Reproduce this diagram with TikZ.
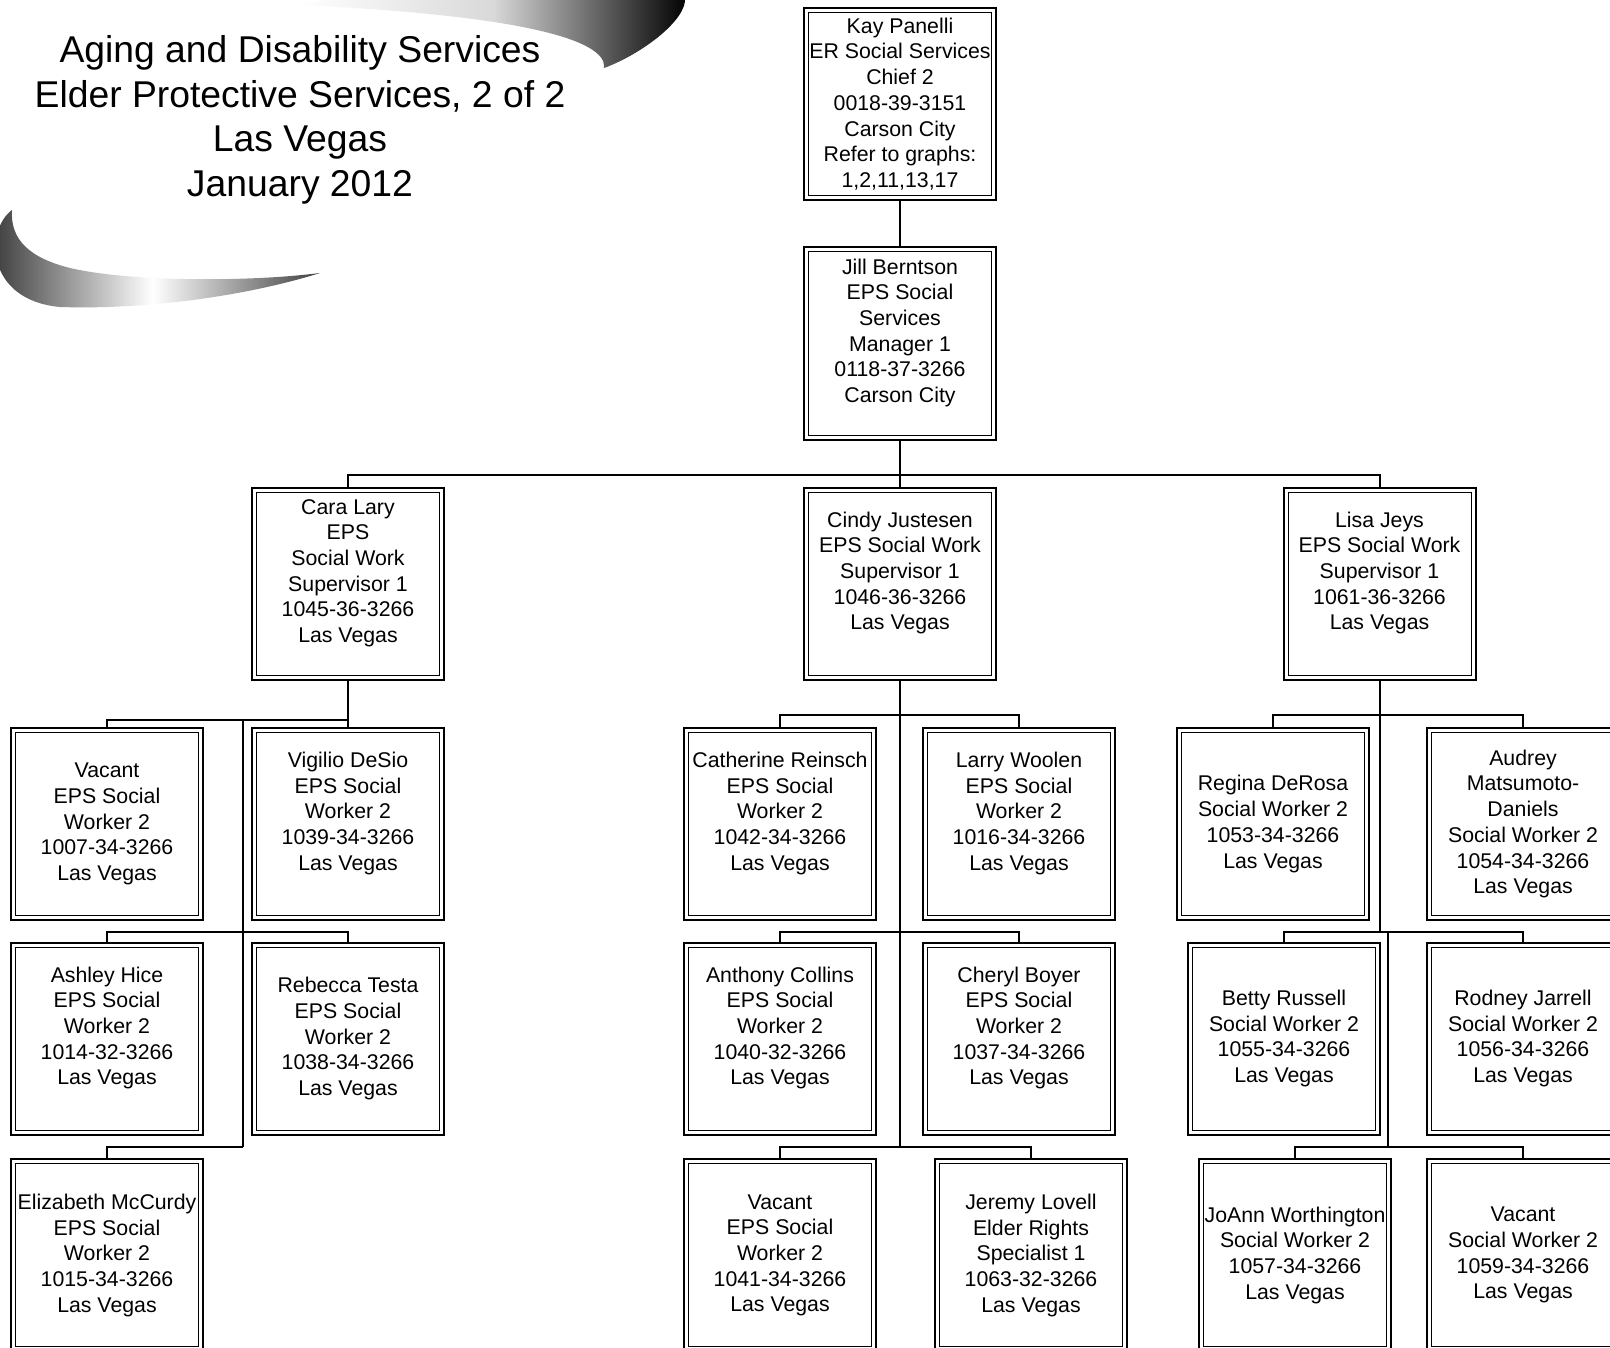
\documentclass[tikz,border=0pt]{standalone}
\usepackage{fontspec}
\setmainfont{Liberation Sans}
\newcommand\boxfont{\fontsize{21.3}{25.7}\selectfont}
\newcommand\titlefont{\fontsize{37.3}{44.7}\selectfont}
\tikzset{
  post/.style={draw, line width=2pt, fill=white, minimum width=192pt, minimum height=192pt,
    inner sep=0pt, align=center, font=\boxfont,
    path picture={\draw[line width=1pt] ([shift={(4.5pt,-4.5pt)}]path picture bounding box.north west)
      rectangle ([shift={(-4.5pt,4.5pt)}]path picture bounding box.south east);}},
  link/.style={line width=2pt}
}
\begin{document}
\begin{tikzpicture}[x=1pt, y=-1pt]
\useasboundingbox (0,0) rectangle (1610,1348);
\fill[white] (0,0) rectangle (1610,1348);
\clip (0,0) rectangle (1610,1348);

% swooshes round the title
\shade[left color=white, right color=black, middle color=black!15]
  (298,5) .. controls (420,-20) and (680,-30) .. (685,-3)
  .. controls (688,20) and (640,55) .. (604,68)
  .. controls (608,40) and (520,15) .. (298,5) -- cycle;
\shade[left color=black!80, right color=black!75, middle color=white]
  (12,210) .. controls (-15,230) and (-15,300) .. (60,307)
  .. controls (150,310) and (250,295) .. (320,273)
  .. controls (250,282) and (130,282) .. (70,268)
  .. controls (30,258) and (10,240) .. (12,210) -- cycle;

\node[font=\titlefont, align=center] (title) at (300,120)
  {Aging and Disability Services\\Elder Protective Services, 2 of 2\\Las Vegas\\January 2012};

% top
\node[post] (kay) at (900,104) {Kay Panelli\\ER Social Services\\Chief 2\\0018-39-3151\\Carson City\\Refer to graphs:\\1,2,11,13,17};
\node[post] (jill) at (900,343.5) {Jill Berntson\\EPS Social\\Services\\Manager 1\\0118-37-3266\\Carson City\\[0pt]~};

% supervisors
\node[post] (cara) at (348,583.7) {Cara Lary\\EPS\\Social Work\\Supervisor 1\\1045-36-3266\\Las Vegas\\[0pt]~};
\node[post] (cindy) at (900,583.7) {Cindy Justesen\\EPS Social Work\\Supervisor 1\\1046-36-3266\\Las Vegas\\[0pt]~};
\node[post] (lisa) at (1379.5,583.7) {Lisa Jeys\\EPS Social Work\\Supervisor 1\\1061-36-3266\\Las Vegas\\[0pt]~};

% Cara's unit
\node[post] (vacantA) at (107,824) {Vacant\\EPS Social\\Worker 2\\1007-34-3266\\Las Vegas};
\node[post] (vigilio) at (348,824) {Vigilio DeSio\\EPS Social\\Worker 2\\1039-34-3266\\Las Vegas\\[0pt]~};
\node[post] (ashley) at (107,1038.6) {Ashley Hice\\EPS Social\\Worker 2\\1014-32-3266\\Las Vegas\\[0pt]~};
\node[post] (rebecca) at (348,1038.6) {Rebecca Testa\\EPS Social\\Worker 2\\1038-34-3266\\Las Vegas};
\node[post] (elizabeth) at (107,1255.3) {Elizabeth McCurdy\\EPS Social\\Worker 2\\1015-34-3266\\Las Vegas};

% Cindy's unit
\node[post] (catherine) at (780,824) {Catherine Reinsch\\EPS Social\\Worker 2\\1042-34-3266\\Las Vegas\\[0pt]~};
\node[post] (larry) at (1019,824) {Larry Woolen\\EPS Social\\Worker 2\\1016-34-3266\\Las Vegas\\[0pt]~};
\node[post] (anthony) at (780,1038.6) {Anthony Collins\\EPS Social\\Worker 2\\1040-32-3266\\Las Vegas\\[0pt]~};
\node[post] (cheryl) at (1019,1038.6) {Cheryl Boyer\\EPS Social\\Worker 2\\1037-34-3266\\Las Vegas\\[0pt]~};
\node[post] (vacantC) at (780,1255.3) {Vacant\\EPS Social\\Worker 2\\1041-34-3266\\Las Vegas};
\node[post] (jeremy) at (1031,1255.3) {Jeremy Lovell\\Elder Rights\\Specialist 1\\1063-32-3266\\Las Vegas};

% Lisa's unit
\node[post] (regina) at (1273,824) {Regina DeRosa\\Social Worker 2\\1053-34-3266\\Las Vegas};
\node[post] (audrey) at (1523,824) {Audrey\\Matsumoto-\\Daniels\\Social Worker 2\\1054-34-3266\\Las Vegas};
\node[post] (betty) at (1284,1038.6) {Betty Russell\\Social Worker 2\\1055-34-3266\\Las Vegas};
\node[post] (rodney) at (1523,1038.6) {Rodney Jarrell\\Social Worker 2\\1056-34-3266\\Las Vegas};
\node[post] (joann) at (1295,1255.3) {JoAnn Worthington\\Social Worker 2\\1057-34-3266\\Las Vegas};
\node[post] (vacantL) at (1523,1255.3) {Vacant\\Social Worker 2\\1059-34-3266\\Las Vegas};

% junctions
\coordinate (mainBus) at (900,475.4);
\coordinate (caraJ) at (348,720);
\coordinate (caraR4) at (243,720);
\coordinate (caraR5) at (243,932);
\coordinate (caraR6) at (243,1147);
\coordinate (cindyR4) at (900,715);
\coordinate (cindyR5) at (900,932);
\coordinate (cindyR6) at (900,1147);
\coordinate (lisaR4) at (1379.5,715);
\coordinate (lisaR5) at (1379.5,932);
\coordinate (lisaR5b) at (1388,932);
\coordinate (lisaR6) at (1388,1147);

\draw[link] (kay) -- (jill);
\draw[link] (jill) -- (cindy);
\draw[link] (cara) |- (mainBus) -| (lisa);

\draw[link] (cara) -- (vigilio);
\draw[link] (vacantA) |- (caraJ);
\draw[link] (caraR4) -- (caraR6);
\draw[link] (ashley) |- (caraR5) -| (rebecca);
\draw[link] (elizabeth) |- (caraR6);

\draw[link] (cindy) -- (cindyR6);
\draw[link] (catherine) |- (cindyR4) -| (larry);
\draw[link] (anthony) |- (cindyR5) -| (cheryl);
\draw[link] (vacantC) |- (cindyR6) -| (jeremy);

\draw[link] (lisa) -- (lisaR5);
\draw[link] (lisaR5b) -- (lisaR6);
\draw[link] (regina) |- (lisaR4) -| (audrey);
\draw[link] (betty) |- (lisaR5) -| (rodney);
\draw[link] (joann) |- (lisaR6) -| (vacantL);
\end{tikzpicture}
\end{document}
